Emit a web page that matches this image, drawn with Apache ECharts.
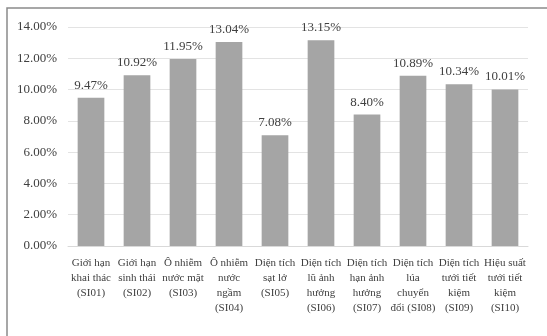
<!DOCTYPE html>
<html>
<head>
<meta charset="utf-8">
<script src="https://cdn.jsdelivr.net/npm/echarts@6/dist/echarts.min.js"></script>
<style>
  html, body { margin: 0; padding: 0; background: #ffffff; }
  #chart { width: 547px; height: 336px; }
</style>
</head>
<body>
<div id="chart"></div>
<script>
// Indicator names (wrapped onto lines as printed under each bar)
const categories = [
  'Giới hạn\nkhai thác\n(SI01)',
  'Giới hạn\nsinh thái\n(SI02)',
  'Ô nhiễm\nnước mặt\n(SI03)',
  'Ô nhiễm\nnước\nngầm\n(SI04)',
  'Diện tích\nsạt lở\n(SI05)',
  'Diện tích\nlũ ảnh\nhưởng\n(SI06)',
  'Diện tích\nhạn ảnh\nhưởng\n(SI07)',
  'Diện tích\nlúa\nchuyển\nđổi (SI08)',
  'Diện tích\ntưới tiết\nkiệm\n(SI09)',
  'Hiệu suất\ntưới tiết\nkiệm\n(SI10)'
];

// Weight of each indicator, in percent
const weights = [9.47, 10.92, 11.95, 13.04, 7.08, 13.15, 8.40, 10.89, 10.34, 10.01];

// Value axis ticks, in percent
const yTicks = [0, 2, 4, 6, 8, 10, 12, 14];

const serif = '"Liberation Serif", "DejaVu Serif", serif';
const chart = echarts.init(document.getElementById('chart'), null, { renderer: 'canvas' });

chart.setOption({
  animation: false,
  backgroundColor: '#ffffff',
  graphic: [{
    type: 'rect',
    shape: { x: 7, y: 8, width: 600, height: 400 },
    style: { fill: 'none', stroke: '#8a8a8a', lineWidth: 1.5 },
    silent: true
  }],
  grid: { left: 68, right: 19, top: 27, bottom: 90, containLabel: false },
  xAxis: {
    type: 'category',
    data: categories,
    axisLine: { show: true, lineStyle: { color: '#d9d9d9', width: 1 } },
    axisTick: { show: false },
    axisLabel: {
      interval: 0,
      margin: 10,
      fontFamily: serif,
      fontSize: 11,
      lineHeight: 15,
      color: '#404040',
      align: 'center'
    }
  },
  yAxis: {
    type: 'value',
    min: yTicks[0],
    max: yTicks[yTicks.length - 1],
    interval: 2,
    axisLine: { show: false },
    axisTick: { show: false },
    splitLine: { lineStyle: { color: '#e3e3e3', width: 1 } },
    axisLabel: {
      margin: 11,
      fontFamily: serif,
      fontSize: 13,
      color: '#404040',
      formatter: v => v.toFixed(2) + '%'
    }
  },
  series: [{
    type: 'bar',
    data: weights,
    barCategoryGap: '42%',
    itemStyle: { color: '#a5a5a5' },
    label: {
      show: true,
      position: 'top',
      distance: 6,
      fontFamily: serif,
      fontSize: 13,
      color: '#404040',
      formatter: p => p.value.toFixed(2) + '%'
    }
  }]
});
</script>
</body>
</html>
